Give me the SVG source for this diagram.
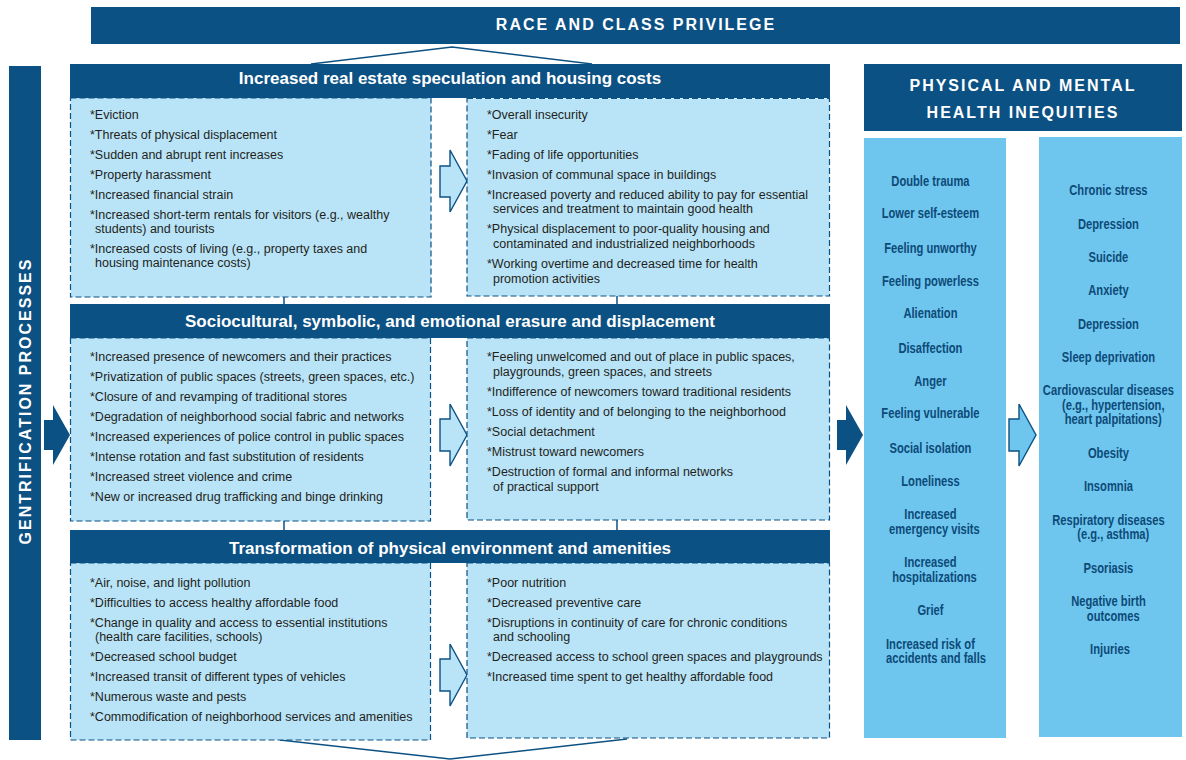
<svg xmlns="http://www.w3.org/2000/svg" width="1186" height="760" viewBox="0 0 1186 760">
  <style>
    .bar { fill: #0c5183; }
    .box { fill: #b9e4f8; stroke: #0c5183; stroke-width: 1.2; stroke-dasharray: 6 3; }
    .col { fill: #6ec6ee; }
    .hollow { fill: #b9e4f8; stroke: #0c5183; stroke-width: 1.4; stroke-linejoin: miter; }
    .hollow2 { fill: #6ec6ee; stroke: #0c5183; stroke-width: 1.4; }
    .solid { fill: #0c5183; }
    .link { fill: none; stroke: #0c5183; stroke-width: 1.5; }
    .caps { font-family: "Liberation Sans", Arial, sans-serif; font-weight: bold; fill: #ffffff; font-size: 16px; letter-spacing: 2px; text-anchor: middle; }
    .head { font-family: "Liberation Sans", Arial, sans-serif; font-weight: bold; fill: #ffffff; font-size: 17px; text-anchor: middle; }
    .item { font-family: "Liberation Sans", Arial, sans-serif; fill: #231f20; font-size: 12.5px; }
    .out { font-family: "Liberation Sans", Arial, sans-serif; font-weight: bold; fill: #0d4a78; font-size: 14px; text-anchor: middle; }
  </style>
  <defs/>
  <rect width="1186" height="760" fill="#ffffff"/>

  <!-- connectors: banner ties, vertical links, arrows -->
  <g id="connectors">
    <polyline class="link" points="311,64 452,47 592,64"/>
    <polyline class="link" points="280,740 450,759 627,739"/>
    <line class="link" x1="284" y1="297" x2="284" y2="305"/>
    <line class="link" x1="617" y1="296" x2="617" y2="305"/>
    <line class="link" x1="284" y1="521" x2="284" y2="530"/>
    <line class="link" x1="617" y1="520" x2="617" y2="530"/>
    <path class="solid" d="M44,420 H53 V405 L70,435 L53,465 V450 H44 Z"/>
    <path class="solid" d="M837,420 H846 V405 L863,435 L846,465 V450 H837 Z"/>
    <path class="hollow" d="M440,166 H450 V150 L467,181 L450,212 V197 H440 Z"/>
    <path class="hollow" d="M440,419 H450 V404 L467,435 L450,466 V451 H440 Z"/>
    <path class="hollow" d="M440,659 H450 V644 L467,675 L450,706 V691 H440 Z"/>
    <path class="hollow2" d="M1009,419 H1019 V404 L1036,435 L1019,466 V451 H1009 Z"/>
  </g>

  <!-- top banner -->
  <g id="privilege">
    <rect class="bar" x="91" y="7" width="1089" height="37"/>
    <text class="caps" x="636" y="30">RACE AND CLASS PRIVILEGE</text>
  </g>

  <!-- vertical side label -->
  <g id="gentrification">
    <rect class="bar" x="9" y="66" width="32" height="674"/>
    <text class="caps" transform="translate(31,401) rotate(-90)" x="0" y="0">GENTRIFICATION PROCESSES</text>
  </g>

  <!-- section 1 -->
  <g id="housing">
    <rect class="bar" x="70" y="64" width="760" height="34"/>
    <text class="head" x="450" y="84">Increased real estate speculation and housing costs</text>
  </g>
  <g id="housing-causes">
    <rect class="box" x="70.5" y="98" width="360.5" height="199"/>
    <text class="item">
      <tspan x="90" y="119">*Eviction</tspan>
      <tspan x="90" y="139">*Threats of physical displacement</tspan>
      <tspan x="90" y="159">*Sudden and abrupt rent increases</tspan>
      <tspan x="90" y="179">*Property harassment</tspan>
      <tspan x="90" y="199">*Increased financial strain</tspan>
      <tspan x="90" y="219">*Increased short-term rentals for visitors (e.g., wealthy</tspan>
      <tspan x="95" y="233">students) and tourists</tspan>
      <tspan x="90" y="253">*Increased costs of living (e.g., property taxes and</tspan>
      <tspan x="95" y="267">housing maintenance costs)</tspan>
    </text>
  </g>
  <g id="housing-effects">
    <rect class="box" x="467" y="98.5" width="362.5" height="197.5"/>
    <text class="item">
      <tspan x="487" y="119">*Overall insecurity</tspan>
      <tspan x="487" y="139">*Fear</tspan>
      <tspan x="487" y="159">*Fading of life opportunities</tspan>
      <tspan x="487" y="179">*Invasion of communal space in buildings</tspan>
      <tspan x="487" y="199">*Increased poverty and reduced ability to pay for essential</tspan>
      <tspan x="493" y="213">services and treatment to maintain good health</tspan>
      <tspan x="487" y="233">*Physical displacement to poor-quality housing and</tspan>
      <tspan x="493" y="247.5">contaminated and industrialized neighborhoods</tspan>
      <tspan x="487" y="267.5">*Working overtime and decreased time for health</tspan>
      <tspan x="493" y="282.5">promotion activities</tspan>
    </text>
  </g>

  <!-- section 2 -->
  <g id="erasure">
    <rect class="bar" x="70" y="304" width="760" height="34"/>
    <text class="head" x="450" y="327">Sociocultural, symbolic, and emotional erasure and displacement</text>
  </g>
  <g id="erasure-causes">
    <rect class="box" x="70.5" y="338" width="360" height="183"/>
    <text class="item">
      <tspan x="90" y="361">*Increased presence of newcomers and their practices</tspan>
      <tspan x="90" y="381">*Privatization of public spaces (streets, green spaces, etc.)</tspan>
      <tspan x="90" y="401">*Closure of and revamping of  traditional stores</tspan>
      <tspan x="90" y="421">*Degradation of neighborhood social fabric and networks</tspan>
      <tspan x="90" y="441">*Increased experiences of police control in public spaces</tspan>
      <tspan x="90" y="461">*Intense rotation and fast substitution of residents</tspan>
      <tspan x="90" y="481">*Increased street violence and crime</tspan>
      <tspan x="90" y="501">*New or increased drug trafficking and binge drinking</tspan>
    </text>
  </g>
  <g id="erasure-effects">
    <rect class="box" x="467" y="338" width="362.5" height="182"/>
    <text class="item">
      <tspan x="487" y="361">*Feeling unwelcomed and out of place in public spaces,</tspan>
      <tspan x="493" y="376">playgrounds, green spaces, and streets</tspan>
      <tspan x="487" y="396">*Indifference of newcomers toward traditional residents</tspan>
      <tspan x="487" y="416">*Loss of identity and of belonging to the neighborhood</tspan>
      <tspan x="487" y="436">*Social detachment</tspan>
      <tspan x="487" y="456">*Mistrust toward newcomers</tspan>
      <tspan x="487" y="476">*Destruction of formal and informal networks</tspan>
      <tspan x="493" y="491">of practical support</tspan>
    </text>
  </g>

  <!-- section 3 -->
  <g id="environment">
    <rect class="bar" x="70" y="530" width="760" height="33"/>
    <text class="head" x="450" y="554">Transformation of physical environment and amenities</text>
  </g>
  <g id="environment-causes">
    <rect class="box" x="70.5" y="563" width="360" height="177"/>
    <text class="item">
      <tspan x="90" y="587">*Air, noise, and light pollution</tspan>
      <tspan x="90" y="607">*Difficulties to access healthy affordable food</tspan>
      <tspan x="90" y="627">*Change in quality and access to essential institutions</tspan>
      <tspan x="95" y="641">(health care facilities, schools)</tspan>
      <tspan x="90" y="661">*Decreased school budget</tspan>
      <tspan x="90" y="681">*Increased transit of different types of vehicles</tspan>
      <tspan x="90" y="701">*Numerous waste and pests</tspan>
      <tspan x="90" y="721">*Commodification of neighborhood services and amenities</tspan>
    </text>
  </g>
  <g id="environment-effects">
    <rect class="box" x="467" y="563" width="362.5" height="175"/>
    <text class="item">
      <tspan x="487" y="587">*Poor nutrition</tspan>
      <tspan x="487" y="607">*Decreased preventive care</tspan>
      <tspan x="487" y="627">*Disruptions in continuity of care for chronic conditions</tspan>
      <tspan x="493" y="641">and schooling</tspan>
      <tspan x="487" y="661">*Decreased access to school green spaces and playgrounds</tspan>
      <tspan x="487" y="681">*Increased time spent to get healthy affordable food</tspan>
    </text>
  </g>

  <!-- health outcomes -->
  <g id="inequities">
    <rect class="bar" x="864" y="64" width="318" height="67"/>
    <text class="caps" x="1023" y="91">PHYSICAL AND MENTAL</text>
    <text class="caps" x="1023" y="118">HEALTH INEQUITIES</text>
  </g>
  <g id="psychosocial">
    <rect class="col" x="864" y="138" width="142" height="600"/>
    <!-- condensed lettering: horizontal squeeze about the column centre -->
    <text class="out" transform="translate(932,0) scale(0.8,1)">
      <tspan x="0" y="186">Double trauma</tspan>
      <tspan x="0" y="218">Lower self-esteem</tspan>
      <tspan x="0" y="253">Feeling unworthy</tspan>
      <tspan x="0" y="286">Feeling powerless</tspan>
      <tspan x="0" y="318">Alienation</tspan>
      <tspan x="0" y="353">Disaffection</tspan>
      <tspan x="0" y="386">Anger</tspan>
      <tspan x="0" y="418">Feeling vulnerable</tspan>
      <tspan x="0" y="453">Social isolation</tspan>
      <tspan x="0" y="486">Loneliness</tspan>
      <tspan x="0" y="519">Increased</tspan>
      <tspan x="5" y="534">emergency visits</tspan>
      <tspan x="0" y="567">Increased</tspan>
      <tspan x="5" y="582">hospitalizations</tspan>
      <tspan x="0" y="615">Grief</tspan>
      <tspan x="0" y="649">Increased risk of</tspan>
      <tspan x="5" y="663">accidents and falls</tspan>
    </text>
  </g>
  <g id="outcomes">
    <rect class="col" x="1039" y="137" width="143" height="600"/>
    <text class="out" transform="translate(1110,0) scale(0.8,1)">
      <tspan x="0" y="195">Chronic stress</tspan>
      <tspan x="0" y="229">Depression</tspan>
      <tspan x="0" y="262">Suicide</tspan>
      <tspan x="0" y="295">Anxiety</tspan>
      <tspan x="0" y="329">Depression</tspan>
      <tspan x="0" y="362">Sleep deprivation</tspan>
      <tspan x="0" y="395">Cardiovascular diseases</tspan>
      <tspan x="6" y="410">(e.g., hypertension,</tspan>
      <tspan x="6" y="424">heart palpitations)</tspan>
      <tspan x="0" y="458">Obesity</tspan>
      <tspan x="0" y="491">Insomnia</tspan>
      <tspan x="0" y="525">Respiratory diseases</tspan>
      <tspan x="6" y="539">(e.g., asthma)</tspan>
      <tspan x="0" y="573">Psoriasis</tspan>
      <tspan x="0" y="606">Negative birth</tspan>
      <tspan x="6" y="621">outcomes</tspan>
      <tspan x="0" y="654">Injuries</tspan>
    </text>
  </g>
</svg>
